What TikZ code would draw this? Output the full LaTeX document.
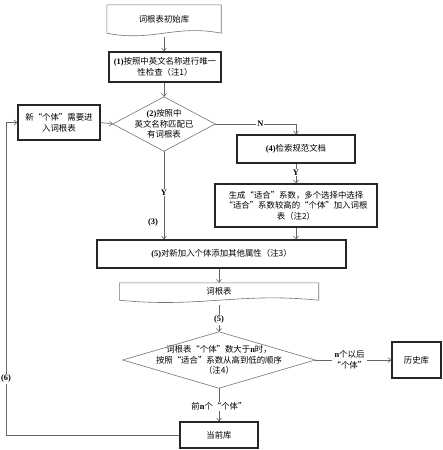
\documentclass[tikz,border=0pt]{standalone}
\usepackage{fontspec}
\setmainfont{Noto Sans CJK SC}
\newfontfamily\lat{Liberation Serif}
\usetikzlibrary{arrows.meta}
\newcommand{\Lb}[1]{{\lat\bfseries #1}}
\begin{document}
\begin{tikzpicture}[x=1pt,y=-1pt,
  font=\fontsize{8.4}{10.6}\selectfont,
  box/.style={draw=black!85,line width=1.2pt,align=center,inner sep=1pt},
  txt/.style={align=center,inner sep=0pt},
  shp/.style={draw=black!55,line width=0.6pt},
  arr/.style={draw=black!60,line width=0.6pt,-{Straight Barb[length=3pt,width=5pt]}},
  ln/.style={draw=black!60,line width=0.6pt},
  lab/.style={fill=white,inner sep=1pt,align=center}
]
\useasboundingbox (0,0) rectangle (442,450);

% document 1
\node[txt,minimum width=114,minimum height=28] (doc1) at (164,19) {词根表初始库};
\draw[shp] (doc1.south west) -- (doc1.north west) -- (doc1.north east) -- (doc1.south east)
  .. controls +(-46,-9) and +(46,9) .. (doc1.south west);

\node[box,minimum width=112,minimum height=30] (b1) at (165,67) {\Lb{(1)}按照中英文名称进行唯一\\性检查（注1）};

% diamond 1
\node[txt,minimum width=102,minimum height=54] (d1) at (164,124) {\Lb{(2)}按照中\\英文名称匹配已\\有词根表};
\draw[shp] (d1.west) -- (d1.north) -- (d1.east) -- (d1.south) -- cycle;

\node[box,minimum width=82,minimum height=35] (new) at (59,122.5) {新“个体”需要进\\入词根表};

\node[box,minimum width=118,minimum height=28] (b4) at (296,149) {\Lb{(4)}检索规范文档};
\node[box,minimum width=162,minimum height=43] (gen) at (296,205.5) {生成“适合”系数，多个选择中选择\\“适合”系数较高的“个体”加入词根\\表（注2）};

\node[box,minimum width=249,minimum height=28] (b5) at (221.5,254) {\Lb{(5)}对新加入个体添加其他属性（注3）};

% document 2
\node[txt,minimum width=199,minimum height=17] (doc2) at (219,291.5) {词根表};
\draw[shp] (doc2.south west) -- (doc2.north west) -- (doc2.north east) -- (doc2.south east)
  .. controls +(-80,-8) and +(80,8) .. (doc2.south west);

% diamond 2
\node[txt,minimum width=192,minimum height=56] (d2) at (219,360) {词根表“个体”数大于\Lb{n}时，\\按照“适合”系数从高到低的顺序\\（注4）};
\draw[shp] (d2.west) -- (d2.north) -- (d2.east) -- (d2.south) -- cycle;

\node[box,minimum width=49,minimum height=36] (hist) at (416.5,360) {历史库};
\node[box,minimum width=78,minimum height=26] (cur) at (219,435) {当前库};

% connectors
\draw[arr] (doc1.south |- 0,37) -- (b1.north -| doc1.south);
\draw[arr] (b1.south -| d1.north) -- (d1.north);
\draw[arr] (new.east) -- (d1.west);
\draw[arr] (d1.east) -| node[lab,pos=0.28]{\Lb{N}} (b4.north);
\draw[arr] (b4.south) -- node[lab,pos=0.45]{\Lb{Y}} (gen.north);
\draw[arr] (gen.south) -- (gen.south |- b5.north);
\draw[arr] (d1.south) -- node[lab,pos=0.47]{\Lb{Y}} (d1.south |- b5.north);
\node[lab,fill=none] (l3) at (153,222) {\Lb{(3)}};
\draw[arr] (b5.south -| doc2.north) -- (doc2.north);
\draw[arr] (doc2.south |- 0,305) -- node[lab,pos=0.55]{\Lb{(5)}} (d2.north);
\draw[arr] (d2.east) -- node[lab,pos=0.45]{\Lb{n}个以后\\“个体”} (hist.west);
\draw[arr] (d2.south) -- node[lab,pos=0.55]{前\Lb{n}个“个体”} (cur.north);
\coordinate (lc1) at (6,435);
\coordinate (lc2) at (6,122.5);
\draw[ln] (cur.west) -- (lc1) -- node[lab,pos=0.18]{\Lb{(6)}} (lc2);
\draw[arr] (lc2) -- (new.west);
\end{tikzpicture}
\end{document}
